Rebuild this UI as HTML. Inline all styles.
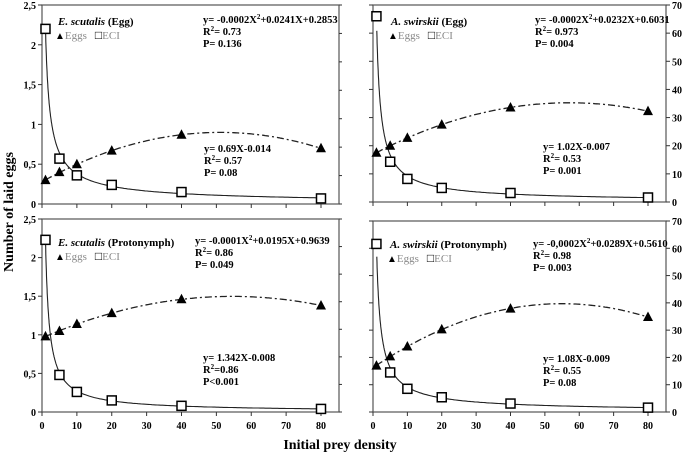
<!DOCTYPE html>
<html><head><meta charset="utf-8">
<style>
html,body{margin:0;padding:0;background:#fff;}
svg{display:block;font-family:"Liberation Serif",serif;font-weight:bold;}
</style></head>
<body>
<svg id="chart" width="685" height="457" viewBox="0 0 685 457" xmlns="http://www.w3.org/2000/svg">
<text x="0" y="0" transform="translate(13,212) rotate(-90)" text-anchor="middle" font-size="14">Number of laid eggs</text>
<text x="340" y="449" text-anchor="middle" font-size="14">Initial prey density</text>
</svg>
<script>
const densities = [1, 5, 10, 20, 40, 80];
const xTicks = [0, 10, 20, 30, 40, 50, 60, 70, 80];
const leftTicks = [0, 0.5, 1, 1.5, 2, 2.5];
const leftTickLabels = ["0", "0,5", "1", "1,5", "2", "2,5"];
const rightTicks = [0, 10, 20, 30, 40, 50, 60, 70];
const eggsTL = [0.30, 0.40, 0.50, 0.67, 0.87, 0.70];
const eciTL = [2.20, 0.57, 0.36, 0.24, 0.15, 0.07];
const eggsTR = [17.5, 20.0, 22.8, 27.5, 33.6, 32.3];
const eciTR = [66.0, 14.3, 8.2, 5.0, 3.2, 1.6];
const eggsBL = [0.98, 1.05, 1.14, 1.28, 1.46, 1.38];
const eciBL = [2.23, 0.48, 0.26, 0.15, 0.08, 0.04];
const eggsBR = [17.0, 20.4, 24.0, 30.3, 37.9, 34.8];
const eciBR = [61.6, 14.5, 8.5, 5.4, 3.1, 1.6];

const NS = "http://www.w3.org/2000/svg";
const svg = document.getElementById('chart');
function mk(tag, attrs, parent) {
  const e = document.createElementNS(NS, tag);
  for (const k in attrs) e.setAttribute(k, attrs[k]);
  (parent || svg).appendChild(e);
  return e;
}
function quadFit(xs, ys) {
  let S = [0,0,0,0,0], T = [0,0,0];
  xs.forEach((x, i) => { for (let p = 0; p < 5; p++) S[p] += Math.pow(x, p); for (let p = 0; p < 3; p++) T[p] += ys[i] * Math.pow(x, p); });
  const A = [[S[0],S[1],S[2],T[0]],[S[1],S[2],S[3],T[1]],[S[2],S[3],S[4],T[2]]];
  for (let i = 0; i < 3; i++) { for (let j = i+1; j < 3; j++) { const f = A[j][i]/A[i][i]; for (let k = i; k < 4; k++) A[j][k] -= f*A[i][k]; } }
  const c = [0,0,0];
  for (let i = 2; i >= 0; i--) { let s = A[i][3]; for (let k = i+1; k < 3; k++) s -= A[i][k]*c[k]; c[i] = s/A[i][i]; }
  return x => c[0] + c[1]*x + c[2]*x*x;
}
function powFit(xs, ys) {
  // anchored power curve through first point: y = y0 * (x/x0)^b
  const a = ys[0], x0 = xs[0];
  let num = 0, den = 0;
  for (let i = 1; i < xs.length; i++) {
    const lx = Math.log(xs[i]/x0), ly = Math.log(ys[i]/a);
    num += lx*ly; den += lx*lx;
  }
  const b = num/den;
  return x => a*Math.pow(x/x0, b);
}

function panel(p) {
  const g = mk('g', {});
  
  
  const sx = x => p.x0 + x * (p.x80 - p.x0) / 80;
  const ymax = p.useRight ? 70 : 2.5;
  const sy = v => p.yBot - v * (p.yBot - p.yTop) / ymax;
  const sl = v => p.yBot - v * (p.yBot - p.yTop) / 2.5;
  const sr = v => p.yBot - v * (p.yBot - p.yTop) / 70;
  const frame = mk('rect', {x: p.x0, y: p.yTop, width: p.xR - p.x0, height: p.yBot - p.yTop, fill: 'none', stroke: '#555', 'stroke-width': 1.2}, g);
  
  
  xTicks.forEach(t => {
    mk('line', {x1: sx(t), x2: sx(t), y1: p.yBot, y2: p.yBot + 4, stroke: '#333', 'stroke-width': 1}, g);
    if (p.xLabels) {
      const tl = mk('text', {x: sx(t), y: p.yBot + 17, 'text-anchor': 'middle', 'font-size': 10}, g);
      
      
      tl.textContent = t;
    }
  });
  if (!p.useRight) {
    leftTicks.forEach((t, i) => {
      mk('line', {x1: p.x0 - 4, x2: p.x0, y1: sl(t), y2: sl(t), stroke: '#333'}, g);
      const tl = mk('text', {x: p.x0 - 6, y: sl(t) + 4, 'text-anchor': 'end', 'font-size': 10}, g);
      
      
      tl.textContent = leftTickLabels[i];
    });
    rightTicks.forEach(t => mk('line', {x1: p.xR, x2: p.xR + 3, y1: sr(t), y2: sr(t), stroke: '#333'}, g));
  } else {
    rightTicks.forEach(t => {
      mk('line', {x1: p.x0 - 4, x2: p.x0, y1: sr(t), y2: sr(t), stroke: '#333'}, g);
      mk('line', {x1: p.xR, x2: p.xR + 4, y1: sr(t), y2: sr(t), stroke: '#333'}, g);
      const tl = mk('text', {x: p.xR + 6, y: sr(t) + 4, 'font-size': 10}, g);
      
      
      tl.textContent = t;
    });
  }
  const q = quadFit(densities, p.eggs), pw = powFit(densities, p.eci);
  let d1 = '', d2 = '';
  for (let x = 1; x <= 80; x += 0.5) {
    d1 += (x === 1 ? 'M' : 'L') + sx(x).toFixed(1) + ',' + sy(q(x)).toFixed(1);
  }
  for (let x = p.eciStart; x <= 80.01; x += (x < 5 ? 0.05 : 0.5)) {
    d2 += (d2 ? 'L' : 'M') + sx(x).toFixed(1) + ',' + Math.max(p.yTop, sy(pw(x))).toFixed(1);
  }
  const c1 = mk('path', {d: d1, fill: 'none', stroke: '#222', 'stroke-width': 1.3, 'stroke-dasharray': '7,3,2,3'}, g);
  
  
  const c2 = mk('path', {d: d2, fill: 'none', stroke: '#222', 'stroke-width': 1.1}, g);
  
  
  densities.forEach((x, i) => {
    const cx = sx(x), cy = sy(p.eggs[i]);
    const t = mk('path', {d: `M${cx},${cy-5.5}L${cx+5},${cy+4}L${cx-5},${cy+4}Z`, fill: '#000'}, g);
    
    
  });
  densities.forEach((x, i) => {
    const cx = sx(x), cy = sy(p.eci[i]);
    const s = mk('rect', {x: cx - 4.5, y: cy - 4.5, width: 9, height: 9, fill: '#fff', stroke: '#000', 'stroke-width': 1.5}, g);
    
    
  });
  const title = mk('text', {x: p.tx, y: p.ty, 'font-size': 11}, g);
  
  
  title.innerHTML = `<tspan font-style="italic">${p.species}</tspan> (${p.stage})`;
  const lg = mk('text', {x: p.tx - 3, y: p.ty + 14, 'font-size': 11}, g);
  
  
  lg.innerHTML = `<tspan font-size="10">▲</tspan><tspan fill="#888" font-weight="normal">Eggs</tspan><tspan dx="8" font-size="12">□</tspan><tspan fill="#888" font-weight="normal">ECI</tspan>`;
  p.eq1.forEach((line, i) => {
    const t = mk('text', {x: p.e1x, y: p.e1y + i * 12, 'font-size': 10.5}, g);
    
    
    t.innerHTML = line;
  });
  p.eq2.forEach((line, i) => {
    const t = mk('text', {x: p.e2x, y: p.e2y + i * 12, 'font-size': 10.5}, g);
    
    
    t.innerHTML = line;
  });
}

panel({name: 'panel-escutalis-egg', x0: 42, x80: 321, xR: 339, yTop: 5, yBot: 204, useRight: false, xLabels: false,
  eggs: eggsTL, eci: eciTL, eciStart: 1, species: 'E. scutalis', stage: 'Egg', tx: 58, ty: 25,
  eq1: ['y= -0.0002X<tspan font-size="7" dy="-4">2</tspan><tspan dy="4">+0.0241X+0.2853</tspan>', 'R<tspan font-size="7" dy="-4">2</tspan><tspan dy="4">= 0.73</tspan>', 'P= 0.136'], e1x: 203, e1y: 23,
  eq2: ['y= 0.69X-0.014', 'R<tspan font-size="7" dy="-4">2</tspan><tspan dy="4">= 0.57</tspan>', 'P= 0.08'], e2x: 204, e2y: 152});
panel({name: 'panel-aswirskii-egg', x0: 373, x80: 648, xR: 666, yTop: 5, yBot: 202, useRight: true, xLabels: false,
  eggs: eggsTR, eci: eciTR, eciStart: 1.1, species: 'A. swirskii', stage: 'Egg', tx: 391, ty: 25,
  eq1: ['y= -0.0002X<tspan font-size="7" dy="-4">2</tspan><tspan dy="4">+0.0232X+0.6031</tspan>', 'R<tspan font-size="7" dy="-4">2</tspan><tspan dy="4">= 0.973</tspan>', 'P= 0.004'], e1x: 535, e1y: 23,
  eq2: ['y= 1.02X-0.007', 'R<tspan font-size="7" dy="-4">2</tspan><tspan dy="4">= 0.53</tspan>', 'P= 0.001'], e2x: 543, e2y: 150});
panel({name: 'panel-escutalis-protonymph', x0: 42, x80: 321, xR: 339, yTop: 219, yBot: 412, useRight: false, xLabels: true,
  eggs: eggsBL, eci: eciBL, eciStart: 1, species: 'E. scutalis', stage: 'Protonymph', tx: 58, ty: 246,
  eq1: ['y= -0.0001X<tspan font-size="7" dy="-4">2</tspan><tspan dy="4">+0.0195X+0.9639</tspan>', 'R<tspan font-size="7" dy="-4">2</tspan><tspan dy="4">= 0.86</tspan>', 'P= 0.049'], e1x: 195, e1y: 244,
  eq2: ['y= 1.342X-0.008', 'R<tspan font-size="7" dy="-4">2</tspan><tspan dy="4">=0.86</tspan>', 'P&lt;0.001'], e2x: 203, e2y: 361});
panel({name: 'panel-aswirskii-protonymph', x0: 373, x80: 648, xR: 666, yTop: 221, yBot: 412, useRight: true, xLabels: true,
  eggs: eggsBR, eci: eciBR, eciStart: 1.1, species: 'A. swirskii', stage: 'Protonymph', tx: 390, ty: 248,
  eq1: ['y= -0,0002X<tspan font-size="7" dy="-4">2</tspan><tspan dy="4">+0.0289X+0.5610</tspan>', 'R<tspan font-size="7" dy="-4">2</tspan><tspan dy="4">= 0.98</tspan>', 'P= 0.003'], e1x: 533, e1y: 247,
  eq2: ['y= 1.08X-0.009', 'R<tspan font-size="7" dy="-4">2</tspan><tspan dy="4">= 0.55</tspan>', 'P= 0.08'], e2x: 543, e2y: 362});
</script>
</body></html>
